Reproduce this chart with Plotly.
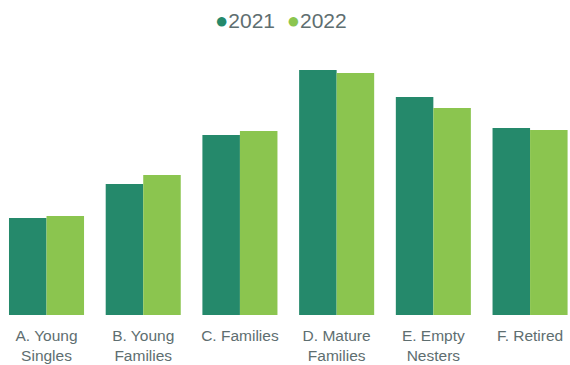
import plotly.graph_objects as go

categories = ["A. Young<br>Singles", "B. Young<br>Families", "C. Families",
              "D. Mature<br>Families", "E. Empty<br>Nesters", "F. Retired"]
series_names = ["2021", "2022"]
values_2021 = [97, 131, 180, 245, 218, 187]
values_2022 = [99, 140, 184, 242, 207, 185]

dark_green = "#25896B"
light_green = "#8BC54F"
text_grey = "#5E6E70"
colors = [dark_green, light_green]

fig = go.Figure()
for name, vals, col in zip(series_names, [values_2021, values_2022], colors):
    fig.add_trace(go.Bar(name=name, x=categories, y=vals, marker_color=col,
                         marker_line_width=0, showlegend=False))

# Compact legend: coloured dot followed by the series name
legend_text = "".join(
    f"<span style='color:{c};font-size:22px'>●</span>{n}" + ("  " if i == 0 else "")
    for i, (n, c) in enumerate(zip(series_names, colors))
)
fig.add_annotation(text=legend_text, xref="paper", yref="paper", x=0.5, y=1.0,
                   yshift=40, xshift=-4, xanchor="center", yanchor="middle",
                   showarrow=False, font=dict(size=21, color=text_grey))

fig.update_layout(
    width=570, height=365,
    margin=dict(l=0, r=0, t=60, b=50),
    paper_bgcolor="white", plot_bgcolor="white",
    barmode="group", bargap=0.224, bargroupgap=0,
    font=dict(family="Liberation Sans, Arial, sans-serif", color=text_grey),
    showlegend=False,
)
fig.update_xaxes(range=[-0.481, 5.413], showline=False, showgrid=False, zeroline=False,
                 ticks="", tickfont=dict(size=15.5, color=text_grey), ticklabelstandoff=9)
fig.update_yaxes(range=[0, 255], visible=False)

fig.write_html("out.html")
